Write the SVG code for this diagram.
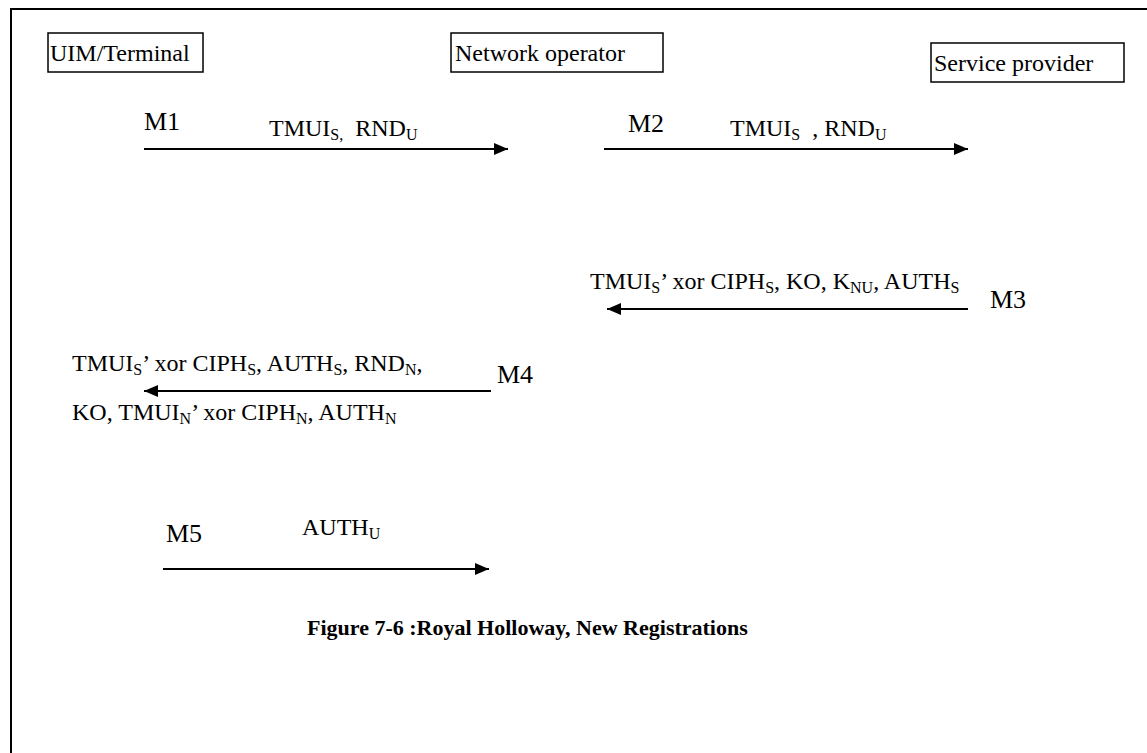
<svg xmlns="http://www.w3.org/2000/svg" width="1147" height="753" viewBox="0 0 1147 753">
  <style>
    .frame { fill: none; stroke: #000; stroke-width: 2; }
    .box { fill: #fff; stroke: #000; stroke-width: 1.5; }
    .lbl { font-family: "Liberation Serif", "Times New Roman", serif; font-size: 24px; fill: #000; white-space: pre; }
    .msg { font-family: "Liberation Serif", "Times New Roman", serif; font-size: 26px; fill: #000; }
    .sub { font-size: 16px; }
    .cap { font-family: "Liberation Serif", "Times New Roman", serif; font-size: 22px; font-weight: bold; fill: #000; }
    .arrow { stroke: #000; stroke-width: 2; fill: none; marker-end: url(#head); }
  </style>
  <defs>
    <marker id="head" viewBox="0 0 14 12" refX="14" refY="6" markerWidth="14" markerHeight="12" markerUnits="userSpaceOnUse" orient="auto">
      <path d="M0,0 L14,6 L0,12 Z" fill="#000"/>
    </marker>
  </defs>

  <rect class="frame" x="11" y="9" width="1160" height="780"/>

  <g id="uim-terminal">
    <rect class="box" x="48" y="33" width="155" height="39"/>
    <text class="lbl" x="50" y="61">UIM/Terminal</text>
  </g>
  <g id="network-operator">
    <rect class="box" x="451" y="33" width="212" height="39"/>
    <text class="lbl" x="455" y="61">Network operator</text>
  </g>
  <g id="service-provider">
    <rect class="box" x="931" y="43" width="193" height="39"/>
    <text class="lbl" x="934" y="71">Service provider</text>
  </g>

  <g id="connectors">
    <line class="arrow" x1="144" y1="149" x2="508" y2="149"/>
    <line class="arrow" x1="604" y1="149" x2="968" y2="149"/>
    <line class="arrow" x1="968" y1="309" x2="607" y2="309"/>
    <line class="arrow" x1="491" y1="391" x2="144" y2="391"/>
    <line class="arrow" x1="163" y1="569" x2="489" y2="569"/>
  </g>

  <g id="labels">
    <text class="msg" x="144" y="130">M1</text>
    <text class="lbl" x="269" y="136">TMUI<tspan class="sub" dy="4">S,</tspan><tspan dy="-4">  RND</tspan><tspan class="sub" dy="4">U</tspan></text>

    <text class="msg" x="628" y="132">M2</text>
    <text class="lbl" x="730" y="136">TMUI<tspan class="sub" dy="4">S</tspan><tspan dy="-4">  , RND</tspan><tspan class="sub" dy="4">U</tspan></text>

    <text class="lbl" x="590" y="289">TMUI<tspan class="sub" dy="4">S</tspan><tspan dy="-4">’ xor CIPH</tspan><tspan class="sub" dy="4">S</tspan><tspan dy="-4">, KO, K</tspan><tspan class="sub" dy="4">NU</tspan><tspan dy="-4">, AUTH</tspan><tspan class="sub" dy="4">S</tspan></text>
    <text class="msg" x="990" y="308">M3</text>

    <text class="lbl" x="72" y="371">TMUI<tspan class="sub" dy="4">S</tspan><tspan dy="-4">’ xor CIPH</tspan><tspan class="sub" dy="4">S</tspan><tspan dy="-4">, AUTH</tspan><tspan class="sub" dy="4">S</tspan><tspan dy="-4">, RND</tspan><tspan class="sub" dy="4">N</tspan><tspan dy="-4">,</tspan></text>
    <text class="msg" x="497" y="383">M4</text>
    <text class="lbl" x="72" y="420">KO, TMUI<tspan class="sub" dy="4">N</tspan><tspan dy="-4">’ xor CIPH</tspan><tspan class="sub" dy="4">N</tspan><tspan dy="-4">, AUTH</tspan><tspan class="sub" dy="4">N</tspan></text>

    <text class="msg" x="166" y="542">M5</text>
    <text class="lbl" x="302" y="535">AUTH<tspan class="sub" dy="4">U</tspan></text>

    <text class="cap" x="307" y="635">Figure 7-6 :Royal Holloway, New Registrations</text>
  </g>
</svg>
